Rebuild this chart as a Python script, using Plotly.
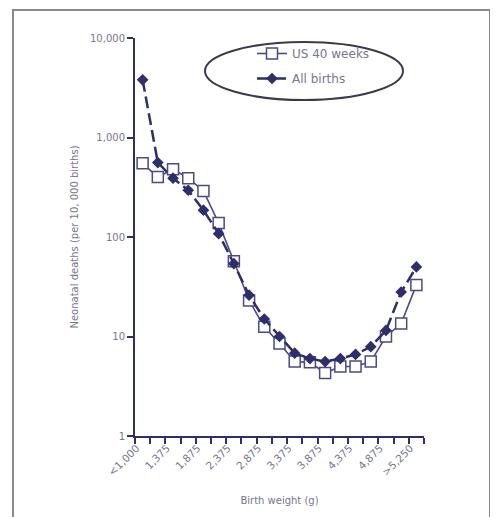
import plotly.graph_objects as go

categories = ["<1,000", "1,125", "1,375", "1,625", "1,875", "2,125", "2,375", "2,625",
              "2,875", "3,125", "3,375", "3,625", "3,875", "4,125", "4,375", "4,625",
              "4,875", "5,125", ">5,250"]
us_40_weeks = [550, 400, 480, 390, 290, 138, 57, 23, 12.5, 8.5, 5.6, 5.5, 4.3, 5.0, 5.0,
               5.6, 10, 13.5, 33]
all_births = [3800, 560, 390, 295, 186, 108, 54, 26, 15, 10, 6.8, 6.0, 5.6, 6.0, 6.6,
              7.9, 11.5, 28, 50]
tick_labels = ["&lt;1,000", "", "1,375", "", "1,875", "", "2,375", "", "2,875", "",
               "3,375", "", "3,875", "", "4,375", "", "4,875", "", "&gt;5,250"]
y_tickvals = [1, 10, 100, 1000, 10000]
y_ticktext = ["1", "10", "100", "1,000", "10,000"]

NAVY = "#2e2e6a"
TXT = "#767690"

fig = go.Figure()
fig.add_trace(go.Scatter(
    x=categories, y=us_40_weeks, name="US 40 weeks", mode="lines+markers",
    line=dict(color="#4a4a88", width=1.6),
    marker=dict(symbol="square", size=11, color="white",
                line=dict(color="#4a4a88", width=1.5)),
    legendgroup="a"))
fig.add_trace(go.Scatter(
    x=categories, y=all_births, name="All births", mode="lines+markers",
    line=dict(color=NAVY, width=2.5, dash="12px,5px"),
    marker=dict(symbol="diamond", size=9, color=NAVY),
    legendgroup="b"))

# page offset from the browser's default body margin
O = 8
W, H = 490, 509
L, R, T, B = 127, 74, 30, 81
pw, ph = W - L - R, H - T - B

def px_x(p):
    return (p - O - L) / pw

def px_y(p):
    return (H - B - (p - O)) / ph

fig.update_layout(
    width=W, height=H,
    margin=dict(l=L, r=R, t=T, b=B),
    paper_bgcolor="white", plot_bgcolor="white",
    font=dict(family="DejaVu Sans, Arial, sans-serif", size=9, color=TXT),
    showlegend=True,
    legend=dict(x=px_x(252), y=px_y(39), xanchor="left", yanchor="top",
                bgcolor="rgba(0,0,0,0)", font=dict(size=12, color=TXT),
                tracegroupgap=6, traceorder="grouped"),
    shapes=[
        dict(type="rect", xref="paper", yref="paper",
             x0=px_x(13), x1=px_x(490), y0=px_y(540), y1=px_y(10),
             line=dict(color="#8a8a8a", width=2), layer="below"),
        dict(type="circle", xref="paper", yref="paper",
             x0=px_x(205), x1=px_x(403), y0=px_y(100), y1=px_y(42),
             line=dict(color="#3a3a4a", width=2)),
    ],
)
fig.update_xaxes(
    type="category", range=[-0.5, 18.5],
    tickmode="array", tickvals=categories, ticktext=tick_labels,
    tickson="boundaries", ticks="outside", ticklen=6, tickwidth=2, tickcolor=NAVY,
    tickangle=-45, tickfont=dict(size=10.5, color=TXT), ticklabelshift=-6,
    showline=True, linecolor=NAVY, linewidth=2, showgrid=False, zeroline=False,
    title=dict(text="Birth weight (g)", font=dict(size=10, color=TXT), standoff=20),
)
fig.update_yaxes(
    type="log", range=[0, 4],
    tickmode="array", tickvals=y_tickvals, ticktext=y_ticktext,
    ticks="outside", ticklen=6, tickwidth=2, tickcolor=NAVY,
    tickfont=dict(size=10, color=TXT),
    showline=True, linecolor=NAVY, linewidth=2, showgrid=False, zeroline=False,
    title=dict(text="Neonatal deaths (per 10, 000 births)", font=dict(size=10, color=TXT),
               standoff=10),
)

fig.write_html("out.html")
